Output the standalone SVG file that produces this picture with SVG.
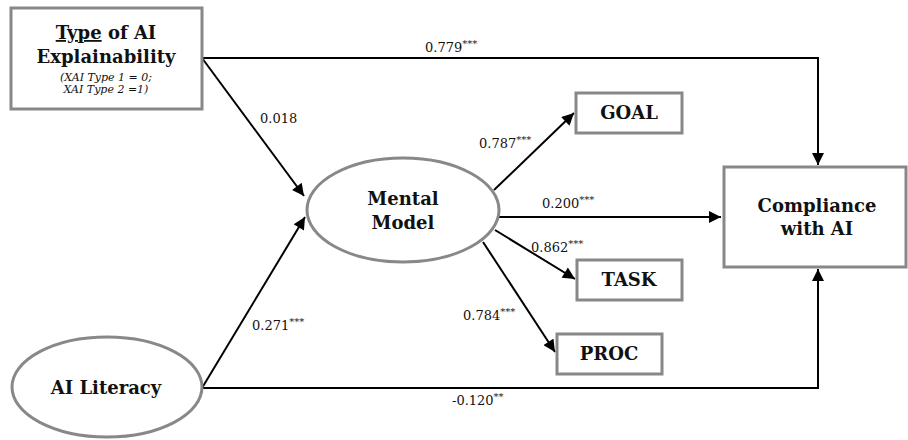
<svg xmlns="http://www.w3.org/2000/svg" width="908" height="440" viewBox="0 0 908 440">
<style>
.box{fill:#fff;stroke:#888;stroke-width:3}
.t{font-family:"DejaVu Serif","Liberation Serif",serif;font-weight:bold;font-size:18px;fill:#111;text-anchor:middle}
.it{font-family:"DejaVu Serif","Liberation Serif",serif;font-style:italic;font-size:11px;fill:#111;text-anchor:middle}
.lb{font-family:"DejaVu Serif","Liberation Serif",serif;font-size:13px;fill:#111}
.sup{font-size:10px}
.c{fill:none;stroke:#000;stroke-width:2}
</style>
<defs>
<marker id="ah" viewBox="0 0 10 10" refX="10" refY="5" markerWidth="6.5" markerHeight="6" orient="auto" markerUnits="strokeWidth">
<path d="M0,0 L10,5 L0,10 z" fill="#000"/>
</marker>
</defs>
<g id="connectors">
<path class="c" d="M202,58 H818 V165" marker-end="url(#ah)"/>
<path class="c" d="M202,388 H818 V269" marker-end="url(#ah)"/>
<path class="c" d="M202,58 L304,196" marker-end="url(#ah)"/>
<path class="c" d="M202,388 L305,217" marker-end="url(#ah)"/>
<path class="c" d="M494,190 L574,113" marker-end="url(#ah)"/>
<path class="c" d="M499,217 L721,217" marker-end="url(#ah)"/>
<path class="c" d="M495,230 L575,279" marker-end="url(#ah)"/>
<path class="c" d="M483,242 L555,352" marker-end="url(#ah)"/>
<text class="lb" x="425" y="52">0.779<tspan class="sup" dy="-5">***</tspan></text>
<text class="lb" x="260" y="123">0.018</text>
<text class="lb" x="479" y="148">0.787<tspan class="sup" dy="-5">***</tspan></text>
<text class="lb" x="542" y="208">0.200<tspan class="sup" dy="-5">***</tspan></text>
<text class="lb" x="531" y="252">0.862<tspan class="sup" dy="-5">***</tspan></text>
<text class="lb" x="463" y="320">0.784<tspan class="sup" dy="-5">***</tspan></text>
<text class="lb" x="252" y="330">0.271<tspan class="sup" dy="-5">***</tspan></text>
<text class="lb" x="452" y="405">-0.120<tspan class="sup" dy="-5">**</tspan></text>
</g>
<g id="type">
<rect class="box" x="11" y="8" width="191" height="101"/>
<text class="t" x="106" y="39"><tspan text-decoration="underline">Type</tspan> of AI</text>
<text class="t" x="106" y="63">Explainability</text>
<text class="it" x="106" y="81">(XAI Type 1 = 0;</text>
<text class="it" x="106" y="93">XAI Type 2 =1)</text>
</g>
<g id="mental">
<ellipse class="box" cx="403" cy="210" rx="96" ry="52"/>
<text class="t" x="403" y="205">Mental</text>
<text class="t" x="403" y="229">Model</text>
</g>
<g id="literacy">
<ellipse class="box" cx="107" cy="387" rx="95" ry="50"/>
<text class="t" x="106" y="394">AI Literacy</text>
</g>
<g id="goal">
<rect class="box" x="576" y="93" width="106" height="40"/>
<text class="t" x="629" y="119">GOAL</text>
</g>
<g id="task">
<rect class="box" x="577" y="260" width="105" height="40"/>
<text class="t" x="629" y="286">TASK</text>
</g>
<g id="proc">
<rect class="box" x="557" y="334" width="105" height="40"/>
<text class="t" x="609" y="360">PROC</text>
</g>
<g id="compliance">
<rect class="box" x="724" y="167" width="182" height="100"/>
<text class="t" x="817" y="212">Compliance</text>
<text class="t" x="817" y="235">with AI</text>
</g>
</svg>
